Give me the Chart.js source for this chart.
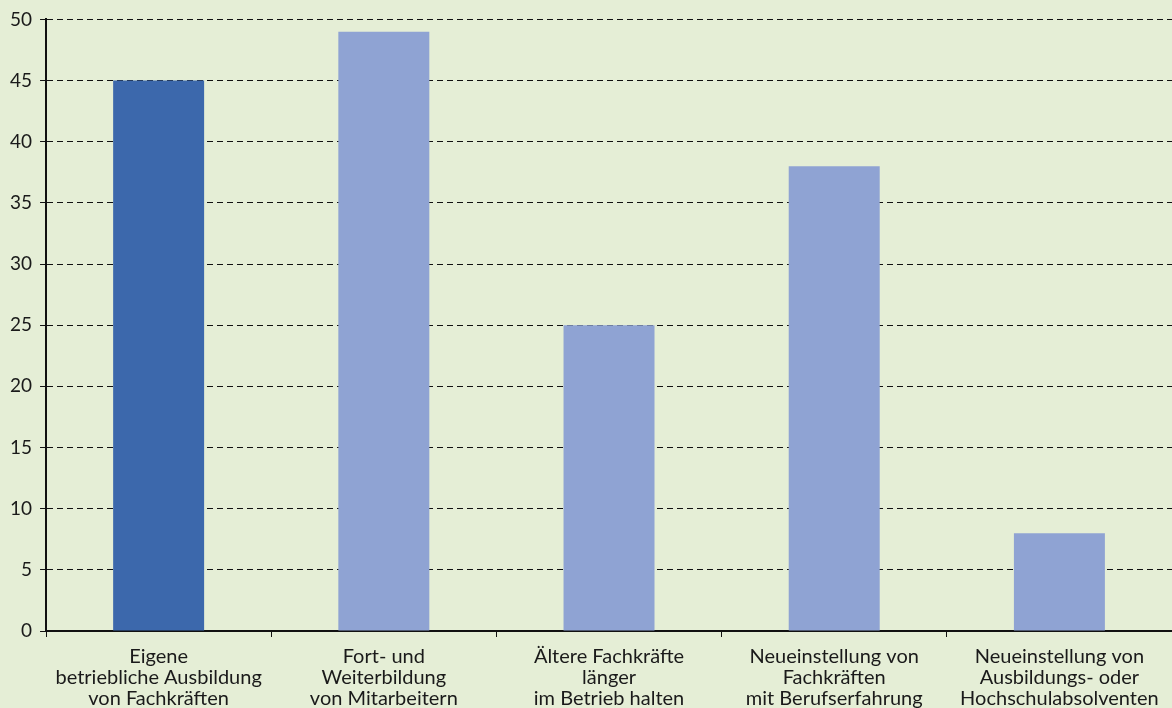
<!DOCTYPE html>
<html>
<head>
<meta charset="utf-8">
<script src="https://cdn.jsdelivr.net/npm/chart.js@4"></script>
<style>
  html, body { margin: 0; padding: 0; background: #e5eed6; overflow: hidden; }
  #wrap { position: relative; width: 1172px; height: 718px; }
</style>
</head>
<body>
<div id="wrap"><canvas id="myChart"></canvas></div>
<script>
const categories = [
  ["Eigene", "betriebliche Ausbildung", "von Fachkräften"],
  ["Fort- und", "Weiterbildung", "von Mitarbeitern"],
  ["Ältere Fachkräfte", "länger", "im Betrieb halten"],
  ["Neueinstellung von", "Fachkräften", "mit Berufserfahrung"],
  ["Neueinstellung von", "Ausbildungs- oder", "Hochschulabsolventen"],
];
const values = [45, 49, 25, 38, 8];
const barColors = ["#3c68ac", "#8fa3d3", "#8fa3d3", "#8fa3d3", "#8fa3d3"];
const yMax = 50;
const yStep = 5;

const fontFamily = "Lato, 'Open Sans', sans-serif";

const chartConfig = {
  type: "bar",
  data: {
    labels: categories,
    datasets: [
      {
        label: "Anteil",
        data: values,
        backgroundColor: barColors,
        borderWidth: 0,
        categoryPercentage: 1,
        barPercentage: 0.404,
      },
    ],
  },
  options: {
    responsive: true,
    maintainAspectRatio: false,
    animation: false,
    plugins: {
      legend: { display: false },
      tooltip: { enabled: false },
    },
    layout: { padding: { left: 2, right: 0, top: 12, bottom: 0 } },
    scales: {
      x: {
        offset: true,
        grid: {
          display: true,
          drawOnChartArea: false,
          drawTicks: true,
          tickLength: 6,
          color: "#111",
          tickWidth: 1,
        },
        border: { display: true, color: "#111", width: 2 },
        ticks: {
          color: "#1a1a1a",
          padding: 9,
          maxRotation: 0,
          autoSkip: false,
          font: { family: fontFamily, size: 20, lineHeight: 1.05 },
        },
      },
      y: {
        min: 0,
        max: yMax,
        grid: {
          color: "#111",
          lineWidth: 1,
          tickLength: 6,
          drawTicks: true,
        },
        border: { display: true, color: "#111", width: 2, dash: [6, 4] },
        ticks: {
          stepSize: yStep,
          color: "#1a1a1a",
          padding: 8,
          font: { family: fontFamily, size: 19 },
        },
      },
    },
  },
};

const ctx = document.querySelector("canvas#myChart").getContext("2d");
const myChart = new Chart(ctx, chartConfig);
</script>
</body>
</html>
